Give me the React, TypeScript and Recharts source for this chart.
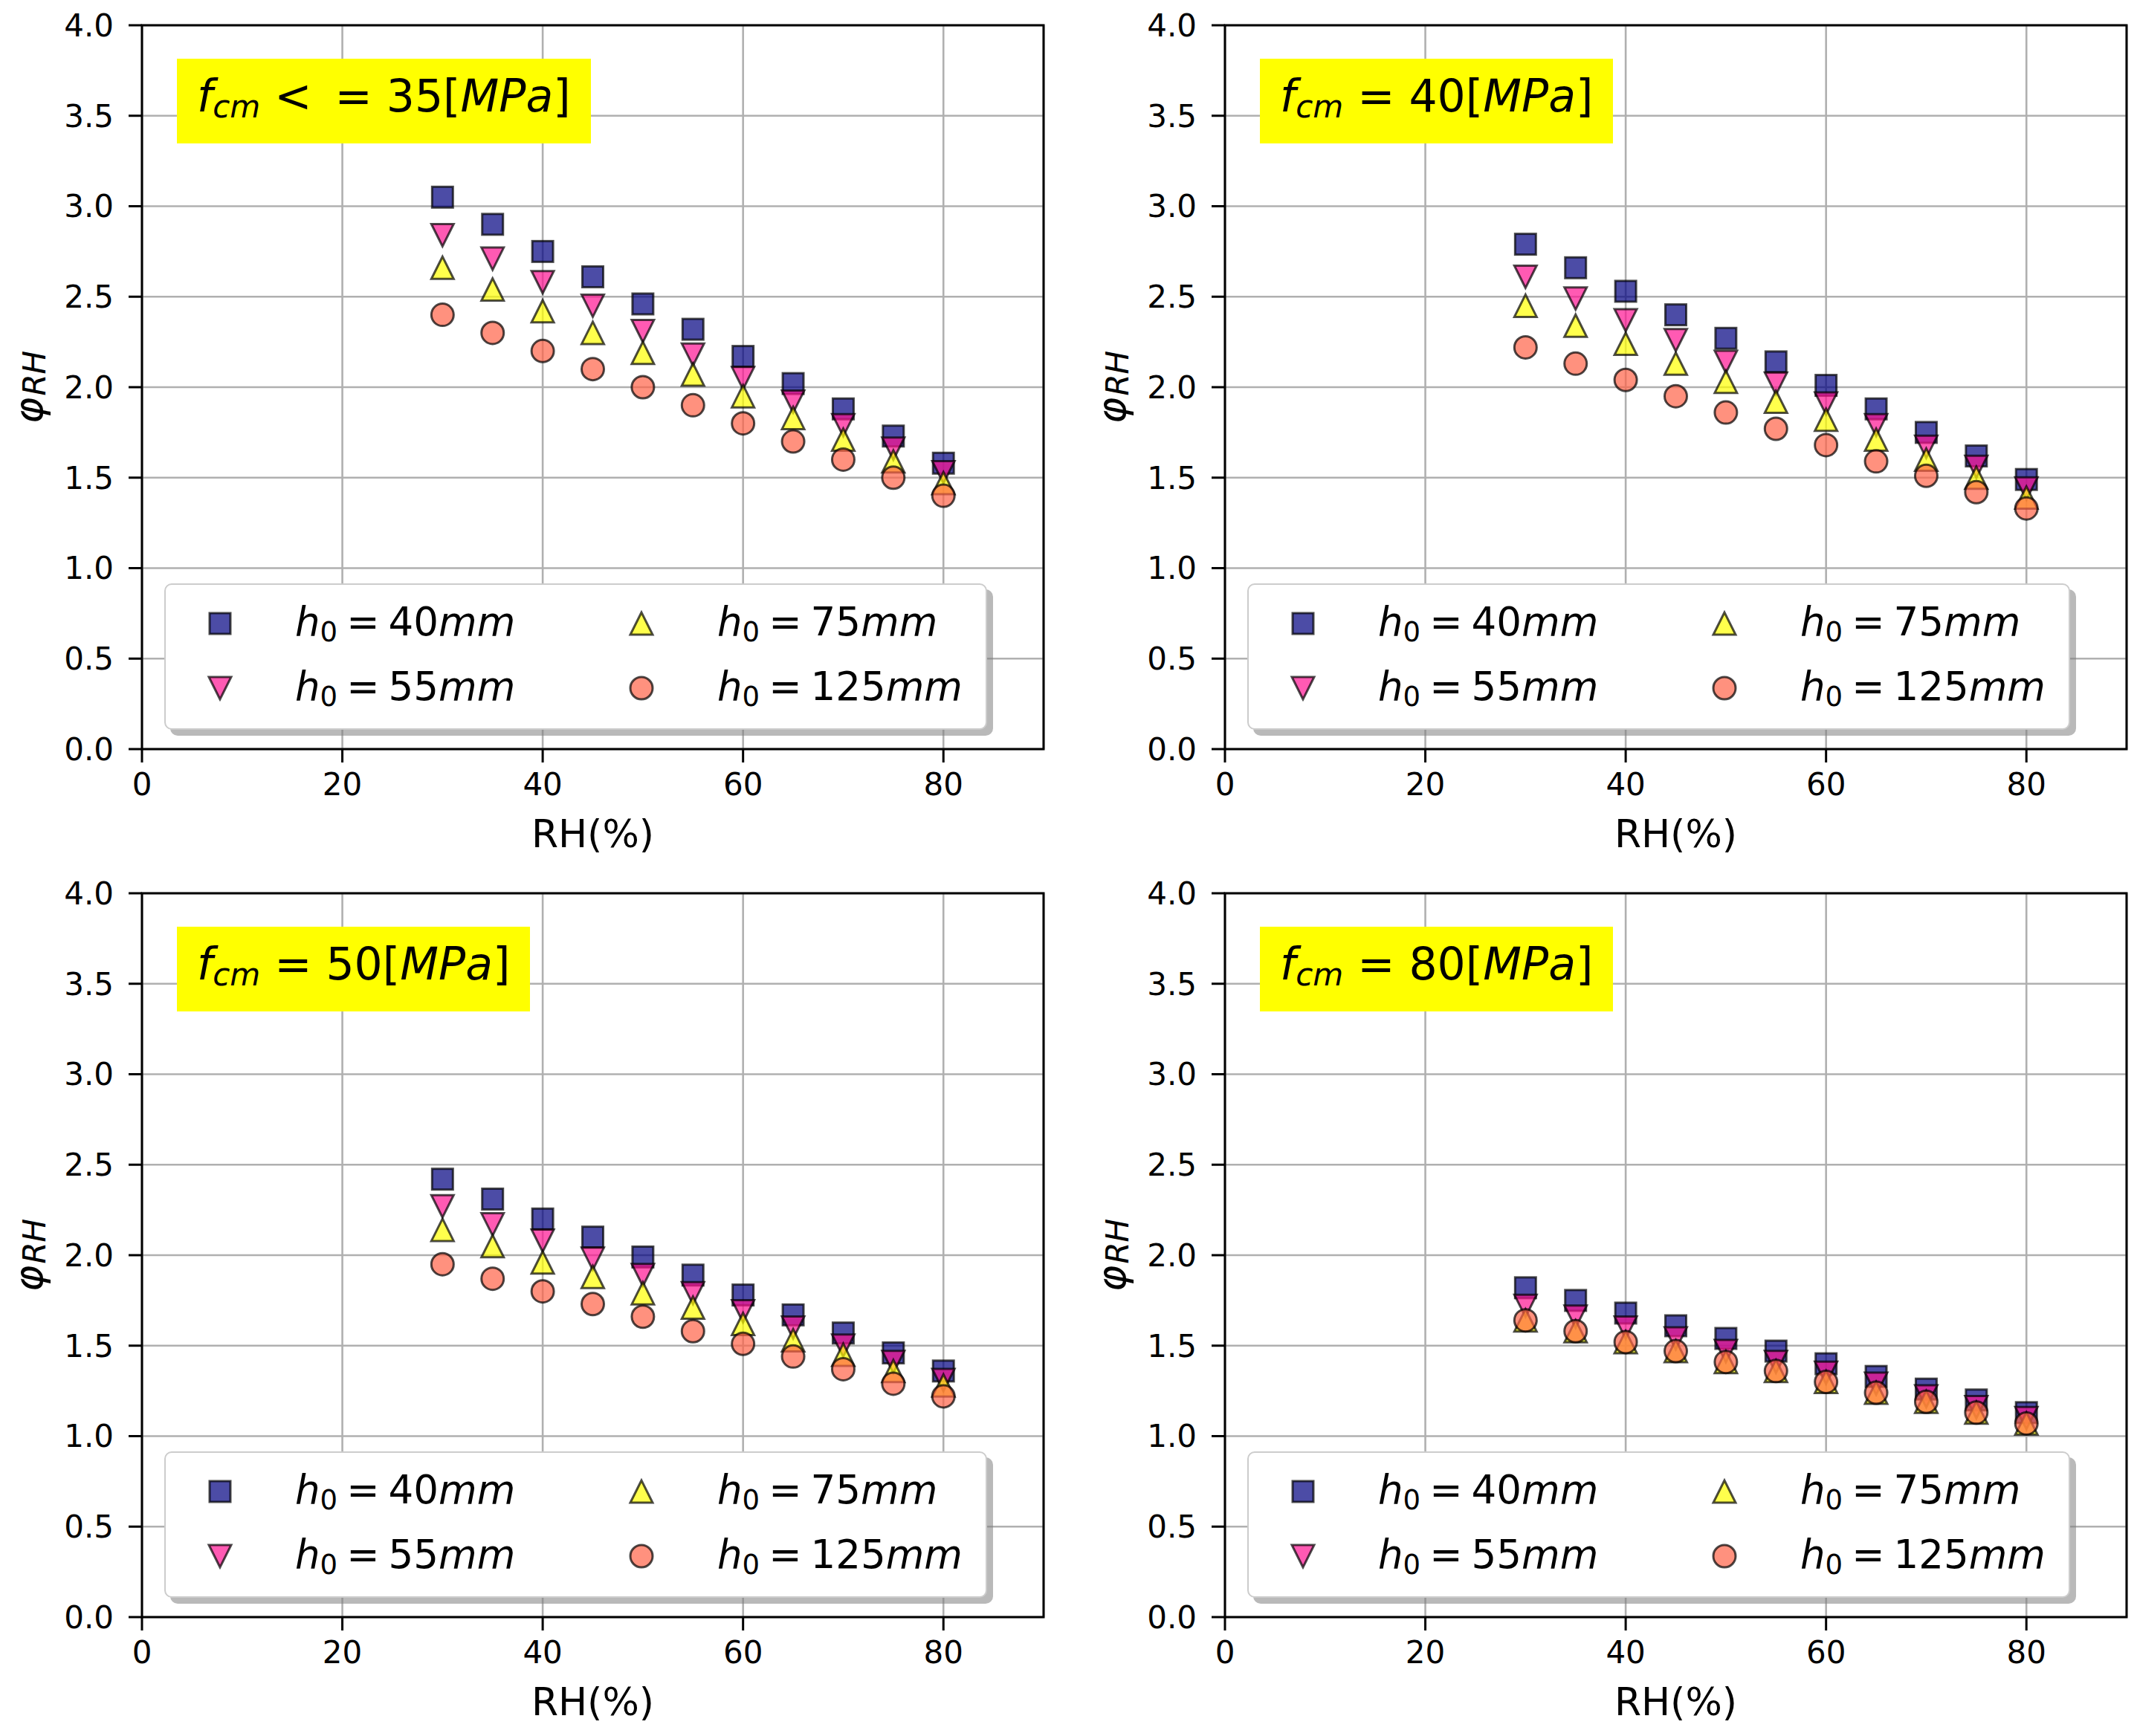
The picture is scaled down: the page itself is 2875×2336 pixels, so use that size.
import React from "react";
import {
  ScatterChart,
  Scatter,
  XAxis,
  YAxis,
  CartesianGrid,
  Legend,
  ReferenceArea,
} from "recharts";

const FONT = "DejaVu Sans";

// relative humidity (%) shared by every panel
const rh = [30, 35, 40, 45, 50, 55, 60, 65, 70, 75, 80];
const xTicks = [0, 20, 40, 60, 80];
const yTicks = [0, 0.5, 1, 1.5, 2, 2.5, 3, 3.5, 4];
const h0Labels = ["40", "55", "75", "125"];

// phi_RH, fcm <= 35 MPa
const fcm35_h40 = [3.05, 2.9, 2.75, 2.61, 2.46, 2.32, 2.17, 2.02, 1.88, 1.73, 1.58];
const fcm35_h55 = [2.84, 2.71, 2.58, 2.45, 2.31, 2.18, 2.05, 1.92, 1.79, 1.66, 1.53];
const fcm35_h75 = [2.66, 2.54, 2.42, 2.3, 2.19, 2.07, 1.95, 1.83, 1.71, 1.59, 1.47];
const fcm35_h125 = [2.4, 2.3, 2.2, 2.1, 2.0, 1.9, 1.8, 1.7, 1.6, 1.5, 1.4];

// fcm = 40 MPa
const fcm40_h40 = [2.79, 2.66, 2.53, 2.4, 2.27, 2.14, 2.01, 1.88, 1.75, 1.62, 1.49];
const fcm40_h55 = [2.61, 2.49, 2.37, 2.26, 2.14, 2.02, 1.91, 1.79, 1.67, 1.56, 1.44];
const fcm40_h75 = [2.45, 2.34, 2.24, 2.13, 2.03, 1.92, 1.82, 1.71, 1.6, 1.5, 1.39];
const fcm40_h125 = [2.22, 2.13, 2.04, 1.95, 1.86, 1.77, 1.68, 1.59, 1.51, 1.42, 1.33];

// fcm = 50 MPa
const fcm50_h40 = [2.42, 2.31, 2.2, 2.1, 1.99, 1.89, 1.78, 1.67, 1.57, 1.46, 1.36];
const fcm50_h55 = [2.27, 2.17, 2.08, 1.98, 1.89, 1.79, 1.69, 1.6, 1.5, 1.41, 1.31];
const fcm50_h75 = [2.14, 2.05, 1.96, 1.88, 1.79, 1.71, 1.62, 1.53, 1.45, 1.36, 1.28];
const fcm50_h125 = [1.95, 1.87, 1.8, 1.73, 1.66, 1.58, 1.51, 1.44, 1.37, 1.29, 1.22];

// fcm = 80 MPa (circles sit on top of the triangles here)
const fcm80_h40 = [1.82, 1.75, 1.68, 1.61, 1.54, 1.47, 1.4, 1.33, 1.26, 1.2, 1.13];
const fcm80_h55 = [1.72, 1.66, 1.6, 1.54, 1.47, 1.41, 1.35, 1.29, 1.22, 1.16, 1.1];
const fcm80_h75 = [1.64, 1.58, 1.52, 1.47, 1.41, 1.36, 1.3, 1.24, 1.19, 1.13, 1.07];
const fcm80_h125 = [1.64, 1.58, 1.52, 1.47, 1.41, 1.36, 1.3, 1.24, 1.19, 1.13, 1.07];

const panels = [
  { key: "p35", left: 0, top: 0, rel: ["<", "="], fcm: "35", series: [fcm35_h40, fcm35_h55, fcm35_h75, fcm35_h125] },
  { key: "p40", left: 1457, top: 0, rel: ["="], fcm: "40", series: [fcm40_h40, fcm40_h55, fcm40_h75, fcm40_h125] },
  { key: "p50", left: 0, top: 1168, rel: ["="], fcm: "50", series: [fcm50_h40, fcm50_h55, fcm50_h75, fcm50_h125] },
  { key: "p80", left: 1457, top: 1168, rel: ["="], fcm: "80", series: [fcm80_h40, fcm80_h55, fcm80_h75, fcm80_h125] },
];

const styles = [
  { shape: "square", color: "#000080" },
  { shape: "down", color: "#ff1493" },
  { shape: "up", color: "#ffff00" },
  { shape: "circle", color: "#ff6347" },
];

const CHART_W = 1434;
const CHART_H = 1158;
const PLOT_L = 191;
const PLOT_T = 34;
const PLOT_W = 1213;
const PLOT_H = 974;

function marker(shape: string, color: string, cx: number, cy: number) {
  const common = {
    fill: color,
    fillOpacity: 0.7,
    stroke: "#000",
    strokeOpacity: 0.7,
    strokeWidth: 3,
  };
  const r = 15;
  if (shape === "square") {
    return <rect x={cx - 14} y={cy - 14} width={28} height={28} {...common} />;
  }
  if (shape === "circle") {
    return <circle cx={cx} cy={cy} r={r} {...common} />;
  }
  if (shape === "up") {
    return (
      <polygon
        points={`${cx},${cy - r} ${cx - r},${cy + r} ${cx + r},${cy + r}`}
        {...common}
      />
    );
  }
  return (
    <polygon
      points={`${cx},${cy + r} ${cx - r},${cy - r} ${cx + r},${cy - r}`}
      {...common}
    />
  );
}

function LegendBox({ payload }: any) {
  const items = payload && payload.length ? payload : h0Labels.map((v) => ({ value: v }));
  return (
    <div
      style={{
        position: "relative",
        width: 1107,
        height: 197,
        background: "#fff",
        border: "2px solid #cccccc",
        borderRadius: 10,
        boxShadow: "8px 8px 0 rgba(128,128,128,0.55)",
        boxSizing: "border-box",
        fontFamily: FONT,
        fontSize: 53,
        color: "#000",
      }}
    >
      {items.map((item: any, i: number) => {
        const col = Math.floor(i / 2);
        const row = i % 2;
        const st = styles[i];
        const cy = 54 + row * 87;
        return (
          <React.Fragment key={i}>
            <svg
              width={40}
              height={40}
              style={{ position: "absolute", left: 75 + col * 567 - 22, top: cy - 22 }}
            >
              {marker(st.shape, st.color, 20, 20)}
            </svg>
            <div
              style={{
                position: "absolute",
                left: 174 + col * 568,
                top: cy - 34,
                whiteSpace: "nowrap",
                lineHeight: "60px",
              }}
            >
              <i>h</i>
              <span style={{ fontSize: 37, position: "relative", top: 8 }}>0</span>
              <span style={{ margin: "0 12px" }}>=</span>
              <span>{h0Labels[i]}</span>
              <i>mm</i>
            </div>
          </React.Fragment>
        );
      })}
    </div>
  );
}

function YLabel() {
  const cx = 57;
  const cy = PLOT_T + PLOT_H / 2;
  return (
    <text
      x={cx}
      y={cy}
      transform={`rotate(-90, ${cx}, ${cy})`}
      textAnchor="middle"
      fontFamily={FONT}
      fontSize={54}
      fill="#000"
    >
      <tspan fontStyle="italic">φ</tspan>
      <tspan fontStyle="italic" fontSize={42} dy={4} dx={2}>RH</tspan>
    </text>
  );
}

function XLabel() {
  return (
    <text
      x={PLOT_L + PLOT_W / 2}
      y={1140}
      textAnchor="middle"
      fontFamily={FONT}
      fontSize={52}
      fill="#000"
    >
      RH(%)
    </text>
  );
}

function TitleBox({ panel }: any) {
  const gaps = panel.rel.length > 1 ? [19, 31, 19] : [19, 19];
  return (
    <div
      style={{
        position: "absolute",
        left: 238,
        top: 79,
        height: 114,
        padding: "20px 27px 0 27px",
        boxSizing: "border-box",
        background: "#ffff00",
        fontFamily: FONT,
        fontSize: 60,
        lineHeight: "60px",
        color: "#000",
        whiteSpace: "nowrap",
      }}
    >
      <i>f</i>
      <i style={{ fontSize: 42, position: "relative", top: 8 }}>cm</i>
      {panel.rel.map((s: string, i: number) => (
        <span key={i} style={{ marginLeft: gaps[i] }}>
          {s}
        </span>
      ))}
      <span style={{ marginLeft: gaps[gaps.length - 1] }}>{panel.fcm}[</span>
      <i>MPa</i>
      <span>]</span>
    </div>
  );
}

function Panel({ panel }: any) {
  return (
    <div style={{ position: "absolute", left: panel.left, top: panel.top, width: CHART_W, height: CHART_H }}>
      <ScatterChart
        width={CHART_W}
        height={CHART_H}
        margin={{ top: PLOT_T, right: CHART_W - PLOT_L - PLOT_W, bottom: 0, left: 0 }}
      >
        <CartesianGrid stroke="#b0b0b0" strokeWidth={2.6} />
        <XAxis
          type="number"
          dataKey="x"
          domain={[0, 90]}
          ticks={xTicks}
          height={CHART_H - PLOT_T - PLOT_H}
          axisLine={false}
          tickSize={18}
          tickMargin={14}
          tickLine={{ stroke: "#000", strokeWidth: 3 }}
          tick={{ fontFamily: FONT, fontSize: 42, fill: "#000" }}
          label={{ content: () => <XLabel /> }}
        />
        <YAxis
          type="number"
          dataKey="y"
          domain={[0, 4]}
          ticks={yTicks}
          width={PLOT_L}
          axisLine={false}
          tickSize={18}
          tickMargin={20}
          tickLine={{ stroke: "#000", strokeWidth: 3 }}
          tick={{ fontFamily: FONT, fontSize: 42, fill: "#000" }}
          tickFormatter={(v: number) => v.toFixed(1)}
          label={{ content: () => <YLabel /> }}
        />
        {panel.series.map((vals: number[], i: number) => (
          <Scatter
            key={i}
            name={`h0 = ${h0Labels[i]}mm`}
            data={rh.map((x, j) => ({ x, y: vals[j] }))}
            fill={styles[i].color}
            isAnimationActive={false}
            shape={(p: any) => marker(styles[i].shape, styles[i].color, p.cx, p.cy)}
          />
        ))}
        <ReferenceArea
          x1={0}
          x2={90}
          y1={0}
          y2={4}
          fill="none"
          stroke="#000"
          strokeWidth={3}
          ifOverflow="visible"
        />
        <Legend
          layout="horizontal"
          verticalAlign="middle"
          align="center"
          width={1107}
          height={197}
          wrapperStyle={{ left: 221, top: 785, width: 1107, height: 197 }}
          content={(props: any) => <LegendBox payload={props.payload} />}
        />
      </ScatterChart>
      <TitleBox panel={panel} />
    </div>
  );
}

export default function App() {
  return (
    <div style={{ position: "relative", width: 2875, height: 2336, background: "#fff" }}>
      <style>{"body{margin:0}"}</style>
      {panels.map((p) => (
        <Panel key={p.key} panel={p} />
      ))}
    </div>
  );
}
